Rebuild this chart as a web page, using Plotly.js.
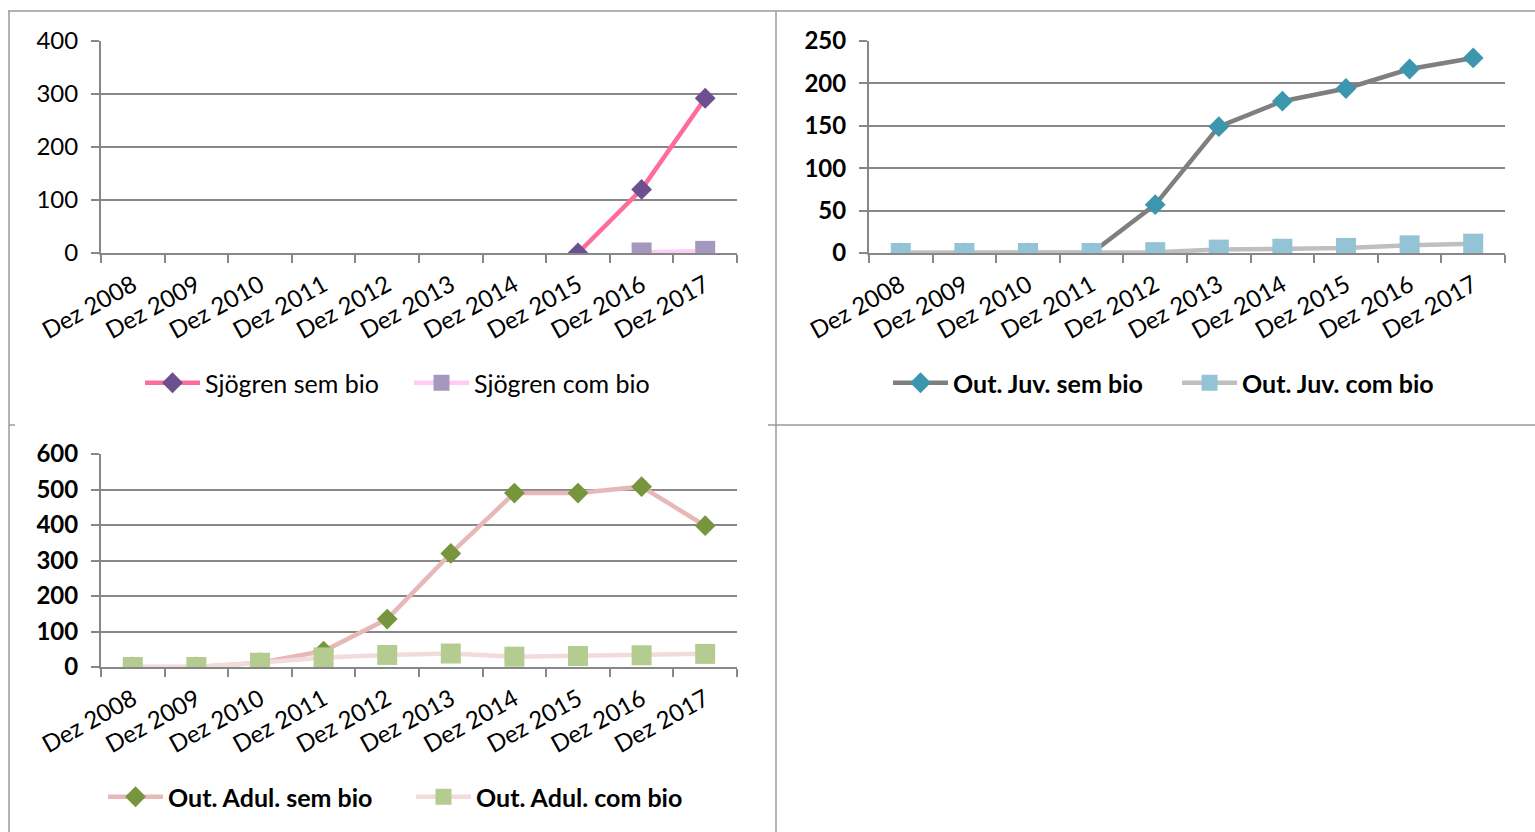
<!DOCTYPE html>
<html>
<head>
<meta charset="utf-8">
<script src="https://cdn.plot.ly/plotly-3.0.1.min.js"></script>
<style>
html,body{margin:0;padding:0;background:#fff;}
#chart{width:1535px;height:832px;}
</style>
</head>
<body>
<div id="chart"></div>
<script>
// ---- data ----
const categories = ["Dez 2008","Dez 2009","Dez 2010","Dez 2011","Dez 2012","Dez 2013","Dez 2014","Dez 2015","Dez 2016","Dez 2017"];

const sjogrenSemBio = [null,null,null,null,null,null,null,0,120,292];
const sjogrenComBio = [null,null,null,null,null,null,null,null,1,4];

const juvSemBio = [0,0,0,0,57,149,179,194,217,230];
const juvComBio = [0,0,0,0,1,4,5,6,9,11];

const adulSemBio = [0,0,12,45,135,320,490,490,508,398];
const adulComBio = [0,0,12,27,34,38,29,31,33,37];

const seriesNames = ["Sjögren sem bio","Sjögren com bio","Out. Juv. sem bio","Out. Juv. com bio","Out. Adul. sem bio","Out. Adul. com bio"];

const W = 1535, H = 832;
const FONT = "Lato, 'Open Sans', sans-serif";
const GRID = "#878787";

function px(x){ return x / W; }
function py(y){ return 1 - y / H; }

function trace(vals, name, xa, ya, lg, lineColor, lineW, symbol, mColor, mSize){
  return {
    x: categories, y: vals, name: name, type: "scatter", mode: "lines+markers",
    xaxis: xa, yaxis: ya, legend: lg, connectgaps: false,
    line: {color: lineColor, width: lineW},
    marker: {symbol: symbol, color: mColor, size: mSize, line: {width: 0}},
    hoverinfo: "x+y+name"
  };
}

const data = [
  trace(sjogrenSemBio, seriesNames[0], "x", "y", "legend", "#FF6B9B", 4.5, "diamond", "#6B4F8F", 16),
  trace(sjogrenComBio, seriesNames[1], "x", "y", "legend", "#FFCCF8", 4.5, "square", "#A598BF", 20),
  trace(juvSemBio, seriesNames[2], "x2", "y2", "legend2", "#7F7F7F", 4.5, "diamond", "#3C96AE", 16),
  trace(juvComBio, seriesNames[3], "x2", "y2", "legend2", "#BFBFBF", 4.5, "square", "#93C3D4", 20),
  trace(adulSemBio, seriesNames[4], "x3", "y3", "legend3", "#E6B9B8", 4.5, "diamond", "#77953D", 16),
  trace(adulComBio, seriesNames[5], "x3", "y3", "legend3", "#F2DCDB", 4.5, "square", "#B5CC90", 20)
];

function xaxis(domain, anchor){
  return {
    domain: domain, anchor: anchor, type: "category", range: [-0.5, 9.5],
    tickson: "boundaries", ticks: "outside", ticklen: 8, tickwidth: 2, tickcolor: GRID,
    showline: true, linecolor: GRID, linewidth: 2, showgrid: false, zeroline: false,
    tickangle: -29, ticklabelstandoff: 7,
    tickfont: {family: FONT, size: 24, color: "#000"},
    fixedrange: true
  };
}
function yaxis(domain, anchor, max, dtick, bold){
  return {
    domain: domain, anchor: anchor, range: [0, max], dtick: dtick, tick0: 0,
    ticks: "outside", ticklen: 8, tickwidth: 2, tickcolor: GRID,
    showline: true, linecolor: GRID, linewidth: 2,
    showgrid: true, gridcolor: GRID, gridwidth: 2, zeroline: false,
    ticklabelstandoff: 8,
    tickfont: {family: FONT, size: 24, color: "#000", weight: bold ? "bold" : "normal"},
    fixedrange: true
  };
}

function legend(left, cy, entry, bold){
  return {
    orientation: "h", x: px(left), y: py(cy), xanchor: "left", yanchor: "middle",
    xref: "paper", yref: "paper", itemwidth: 55, bgcolor: "rgba(0,0,0,0)",
    entrywidth: entry, entrywidthmode: "pixels",
    font: {family: FONT, size: 25, color: "#000", weight: bold ? "bold" : "normal"},
    itemclick: false, itemdoubleclick: false
  };
}

const borderColor = "#9A9A9A";
function ln(x0,y0,x1,y1){
  return {type:"line", xref:"paper", yref:"paper", x0:px(x0), y0:py(y0), x1:px(x1), y1:py(y1),
          line:{color:borderColor, width:1.5}, layer:"below"};
}

const layout = {
  width: W, height: H,
  margin: {l:0, r:0, t:0, b:0},
  paper_bgcolor: "#fff", plot_bgcolor: "rgba(0,0,0,0)",
  font: {family: FONT},
  xaxis: xaxis([px(101), px(737)], "y"),
  yaxis: yaxis([py(253), py(41)], "x", 400, 100, false),
  xaxis2: xaxis([px(869), px(1505)], "y2"),
  yaxis2: yaxis([py(253), py(41)], "x2", 250, 50, true),
  xaxis3: xaxis([px(101), px(737)], "y3"),
  yaxis3: yaxis([py(667), py(454)], "x3", 600, 100, true),
  legend: legend(140, 383, 199, false),
  legend2: legend(888, 383, 219, true),
  legend3: legend(103, 797, 238, true),
  showlegend: true,
  shapes: [
    ln(8, 11, 1535, 11),
    ln(9, 11, 9, 832),
    ln(776, 11, 776, 832),
    ln(768, 425, 1535, 425),
    ln(9, 425, 15, 425)
  ]
};

Plotly.newPlot("chart", data, layout, {displayModeBar: false, staticPlot: false});
</script>
</body>
</html>
